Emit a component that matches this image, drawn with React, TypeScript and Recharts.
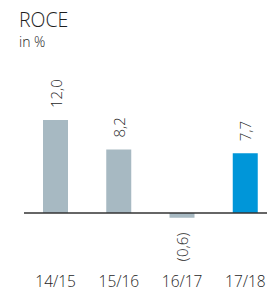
import { BarChart, Bar, XAxis, YAxis, Cell, LabelList, ReferenceLine } from 'recharts';

const years = ['14/15', '15/16', '16/17', '17/18'];
const roce = [12.0, 8.2, -0.6, 7.7];
const currentYear = '17/18';

const GREY = '#a7b9c2';
const BLUE = '#0096d9';
const TEXT = '#1e1e1e';
const FONT = '"Open Sans", "Noto Sans", sans-serif';

const data = years.map((year, i) => ({ year, value: roce[i] }));

const fmt = (v: number) => {
    const s = Math.abs(v).toFixed(1).replace('.', ',');
    return v < 0 ? `(${s})` : s;
};

const ValueLabel = (props: any) => {
    const { x, y, width, height, value } = props;
    const cx = x + width / 2;
    const top = Math.min(y, y + height);
    const bottom = Math.max(y, y + height);
    const neg = value < 0;
    const ty = neg ? bottom + 15 : top - 12;
    return (
        <text
            x={cx}
            y={ty}
            transform={`rotate(-90 ${cx} ${ty})`}
            textAnchor={neg ? 'end' : 'start'}
            dominantBaseline="central"
            fill={TEXT}
            fontSize={15}
            fontFamily={FONT}
            fontWeight={300}
        >
            {fmt(value)}
        </text>
    );
};

const YearTick = (props: any) => {
    const { x, y, payload } = props;
    return (
        <text x={x} y={y + 50} textAnchor="middle" fill={TEXT} fontSize={15.5} fontFamily={FONT} fontWeight={300}>
            {payload.value}
        </text>
    );
};

export default function App() {
    return (
        <div style={{ position: 'absolute', left: 0, top: 0, width: 267, height: 291, overflow: 'hidden', background: '#fff' }}>
            <div style={{ position: 'absolute', left: 19, top: 7, fontFamily: FONT, color: TEXT, fontWeight: 300 }}>
                <div style={{ fontSize: 19.5, lineHeight: '26px' }}>ROCE</div>
                <div style={{ fontSize: 14, lineHeight: '18px' }}>in %</div>
            </div>
            <BarChart
                width={277}
                height={291}
                data={data}
                margin={{ top: 104.5, right: 0, bottom: 0, left: 24 }}
                barSize={25}
            >
                <YAxis hide domain={[-2, 14]} allowDataOverflow />
                <XAxis dataKey="year" axisLine={false} tickLine={false} height={62.5} tick={<YearTick />} interval={0} />
                <Bar dataKey="value" isAnimationActive={false}>
                    {data.map((d) => (
                        <Cell key={d.year} fill={d.year === currentYear ? BLUE : GREY} />
                    ))}
                    <LabelList dataKey="value" content={<ValueLabel />} />
                </Bar>
                <ReferenceLine y={0} stroke="#333" strokeWidth={1.5} />
            </BarChart>
        </div>
    );
}
